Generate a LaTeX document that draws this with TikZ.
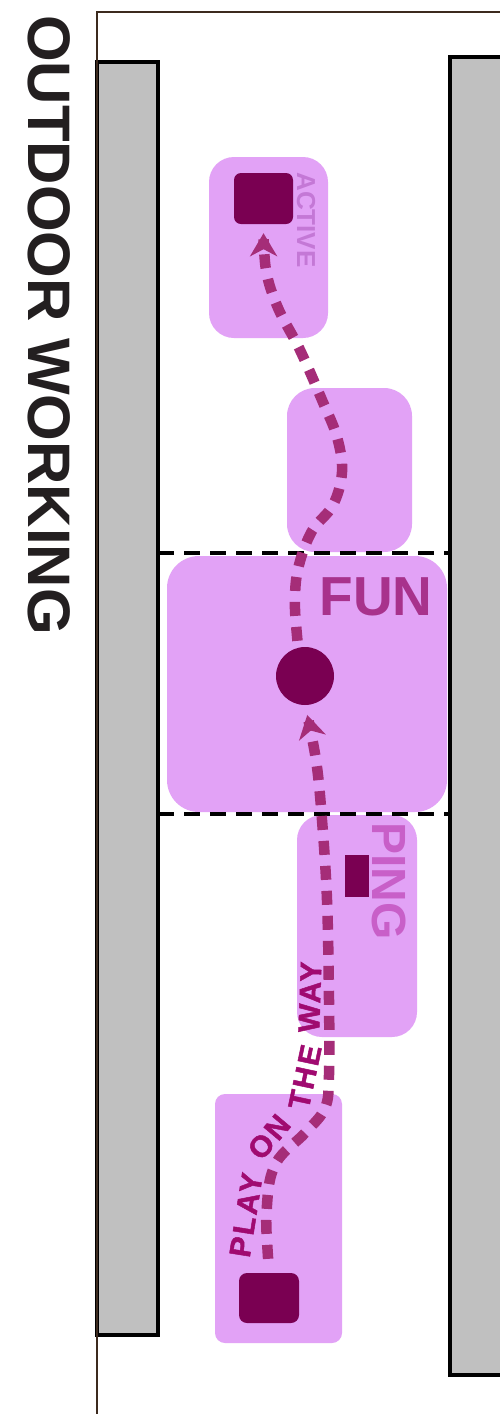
\documentclass[tikz,border=0pt]{standalone}
\usepackage{fontspec}
\setmainfont{Liberation Sans}
\newfontfamily\playfont{Liberation Sans Bold}[FakeBold=1.6, LetterSpace=8]
\usetikzlibrary{arrows.meta}
\definecolor{pinkbox}{RGB}{226,162,246}
\definecolor{darksq}{RGB}{122,0,82}
\definecolor{dashcol}{RGB}{165,45,120}
\definecolor{funcol}{RGB}{168,50,140}
\definecolor{pingcol}{RGB}{200,95,200}
\definecolor{activecol}{RGB}{196,120,214}
\definecolor{playcol}{RGB}{160,10,112}
\definecolor{wallgray}{RGB}{192,192,192}
\definecolor{framebrown}{RGB}{60,42,30}
\definecolor{titlecol}{RGB}{35,31,32}
\begin{document}
\begin{tikzpicture}[x=1pt,y=-1pt,
  wall/.style={fill=wallgray, draw=black, line width=3.5pt},
  zone/.style={rectangle, fill=pinkbox, draw=none, inner sep=0pt},
  darkmark/.style={fill=darksq, draw=none, inner sep=0pt},
  divider/.style={draw=black, line width=3.5pt, dash pattern=on 16pt off 10pt},
  route/.style={draw=dashcol, line width=10.5pt, dash pattern=on 14pt off 11pt,
     -{Stealth[length=23pt,width=27pt,inset=7pt]}},
  vlabel/.style={rotate=-90, anchor=base, inner sep=0pt},
  playword/.style={inner sep=0pt, text=playcol, font=\fontsize{30}{30}\playfont}]
\useasboundingbox (0,0) rectangle (500,1414);
\fill[white] (0,0) rectangle (500,1414);
% walls
\draw[wall] (97,62) rectangle (158,1335);
\draw[wall] (450,57) rectangle (506,1375);
% frame
\draw[framebrown, line width=1.8pt] (97,1414) -- (97,12) -- (500,12);
% zones
\node[zone, minimum width=119pt, minimum height=181pt, rounded corners=25pt] (activebox) at (268.5,247.5) {};
\node[zone, minimum width=125pt, minimum height=164pt, rounded corners=28pt] (midbox) at (349.5,470) {};
\node[zone, minimum width=280pt, minimum height=256pt, rounded corners=32pt] (funbox) at (307,684) {};
\node[zone, minimum width=120pt, minimum height=222pt, rounded corners=25pt] (pingbox) at (357,926) {};
\node[zone, minimum width=127pt, minimum height=249pt, rounded corners=10pt] (playbox) at (278.5,1218.5) {};
% dividers
\draw[divider] (158,553) -- (450,553);
\draw[divider] (158,814) -- (450,814);
% marks
\node[darkmark, minimum width=59pt, minimum height=51pt, rounded corners=7pt] (activesq) at (263.5,198.5) {};
\node[darkmark, minimum width=60pt, minimum height=50pt, rounded corners=8pt] (playsq) at (269,1298) {};
\node[darkmark, minimum width=24pt, minimum height=42pt] (pingsq) at (357,876) {};
\node[darkmark, circle, minimum size=58pt] (circ) at (305,676) {};
% routes
\draw[route, shorten <=14pt, shorten >=10pt] plot[smooth, tension=0.6] coordinates {(playsq.north) (267,1205) (276,1163) (305,1133) (325,1108) (329,1075) (329,1000) (327,900) (322,820) (316,760) (circ.south)};
\draw[route, shorten <=6pt, shorten >=9pt] plot[smooth, tension=0.6] coordinates {([xshift=-7pt]circ.north) (295,598) (299,565) (312,531) (333,505) (342,472) (337,437) (322,400) (300,350) (278,308) (266,270) (activesq.south)};
% labels
\node[vlabel, font=\fontsize{60}{60}\selectfont\bfseries, text=titlecol] (title) at (28,325) {OUTDOOR WORKING};
\node[vlabel, font=\fontsize{26}{26}\selectfont\bfseries, text=activecol] (activelbl) at (297,220) {ACTIVE};
\node[vlabel, font=\fontsize{48}{48}\selectfont\bfseries, text=pingcol] (pinglbl) at (372,881) {PING};
\node[anchor=base, inner sep=0pt, font=\fontsize{55}{55}\selectfont\bfseries, text=funcol] (funlbl) at (376,615) {FUN};
% PLAY ON THE WAY along the route
\node[playword, rotate=81] (wplay) at (246,1215) {PLAY};
\node[playword, rotate=50] (won) at (269,1137) {ON};
\node[playword, rotate=78] (wthe) at (305,1077) {THE};
\node[playword, rotate=88] (wway) at (310,997) {WAY};
\end{tikzpicture}
\end{document}
